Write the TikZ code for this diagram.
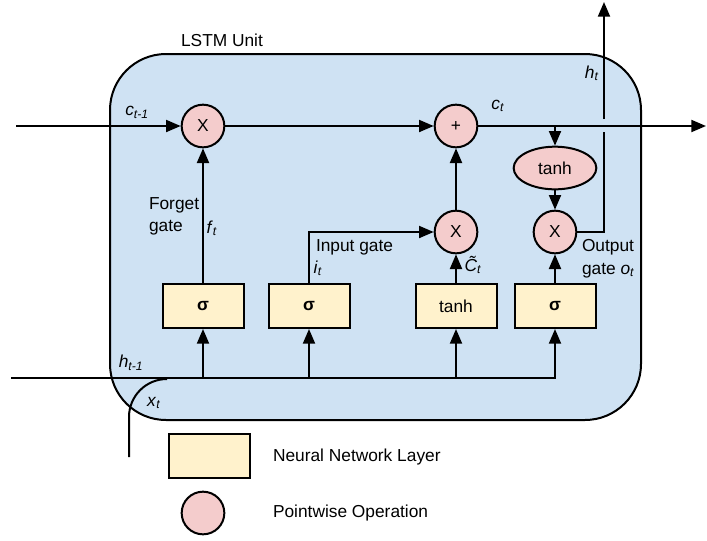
\documentclass[tikz,border=0pt]{standalone}
\usepackage{fontspec}
\setmainfont{Liberation Sans}
\usetikzlibrary{arrows.meta,shapes.geometric}
\definecolor{cellfill}{HTML}{CFE2F3}
\definecolor{layerfill}{HTML}{FFF2CC}
\definecolor{pwfill}{HTML}{F4CCCC}
\newcommand{\lsub}[2]{\textit{#1}\textsubscript{\textit{#2}}}
\begin{document}
\begin{tikzpicture}[x=0.75pt,y=-0.75pt,
  font=\fontsize{13}{16.5}\selectfont, line width=1.5pt,
  arr/.style={-{Triangle[length=11pt,width=9pt]}},
  layer/.style={draw, fill=layerfill, minimum width=60.75pt, minimum height=33pt, inner sep=0pt},
  pw/.style={draw, circle, fill=pwfill, minimum size=32pt, inner sep=0pt},
  pwell/.style={draw, ellipse, fill=pwfill, minimum width=62pt, minimum height=32pt, inner sep=0pt},
  lbl/.style={inner sep=0pt}]
\useasboundingbox (0,0) rectangle (707,540);
\fill[white] (0,0) rectangle (707,540);
% cell
\draw[fill=cellfill, rounded corners=42pt] (110,54) rectangle (641,420);
% nodes
\node[pw] (m1) at (203,126) {X};
\node[pw] (add) at (456,126) {+};
\node[pw] (mi) at (456,232) {X};
\node[pw] (mo) at (555,232) {X};
\node[pwell] (tc) at (555,168) {tanh};
\node[layer] (f) at (203,306) {\textbf{σ}};
\node[layer] (i) at (309,306) {\textbf{σ}};
\node[layer] (g) at (456,306) {tanh};
\node[layer] (o) at (555,306) {\textbf{σ}};
% coordinates
\coordinate (cin) at (16,126);
\coordinate (cout) at (706,126);
\coordinate (hin) at (11,378);
\coordinate (xin) at (129,457);
\coordinate (xbend) at (129,417);
\coordinate (xjoin) at (167,379);
\coordinate (htop) at (604,2);
\coordinate (gapb) at (604,132);
\coordinate (gapt) at (604,119);
% connectors
\draw[arr] (cin) -- (m1);
\draw[arr] (m1) -- (add);
\draw[arr] (add) -- (cout);
\draw[arr] (tc.north |- add.center) -- (tc);
\draw[arr] (tc) -- (mo);
\draw (mo.east) -| (gapb);
\draw[arr] (gapt) -- (htop);
\draw[arr] (i.north) |- (mi.west);
\draw[arr] (g) -- (mi);
\draw[arr] (mi) -- (add);
\draw[arr] (f) -- (m1);
\draw[arr] (o) -- (mo);
\draw[arr] (hin) -| (o.south);
\draw[arr] (f.south |- hin) -- (f.south);
\draw[arr] (i.south |- hin) -- (i.south);
\draw[arr] (g.south |- hin) -- (g.south);
\draw (xin) -- (xbend) .. controls (129,396) and (146,379) .. (xjoin);
% labels
\node[lbl] (title) at (222,40) {LSTM Unit};
\node[lbl] (lcprev) at (137,112) {\lsub{c}{t-1}};
\node[lbl] (lct) at (498,106) {\lsub{c}{t}};
\node[lbl] (lht) at (592,73) {\lsub{h}{t}};
\node[lbl, anchor=west, align=left] (lforget) at (148,216) {Forget\\gate};
\node[lbl] (lft) at (212,228) {\lsub{f}{t}};
\node[lbl, anchor=west] (linput) at (315,247) {Input gate};
\node[lbl] (lit) at (318,268) {\lsub{i}{t}};
\node[lbl] (lct2) at (473,265) {\lsub{\~{C}}{t}};
\node[lbl, anchor=west, align=left, font=\fontsize{13}{17}\selectfont] (loutput) at (581,258.5) {Output\\gate \lsub{o}{t}};
\node[lbl] (lhprev) at (131,363) {\lsub{h}{t-1}};
\node[lbl] (lxt) at (154,403) {\lsub{x}{t}};
% legend
\node[layer] (leg1) at (209.5,456) {};
\node[pw] (leg2) at (203,513) {};
\node[lbl, anchor=west] (leg1t) at (272,457) {Neural Network Layer};
\node[lbl, anchor=west] (leg2t) at (272,513) {Pointwise Operation};
\end{tikzpicture}
\end{document}
